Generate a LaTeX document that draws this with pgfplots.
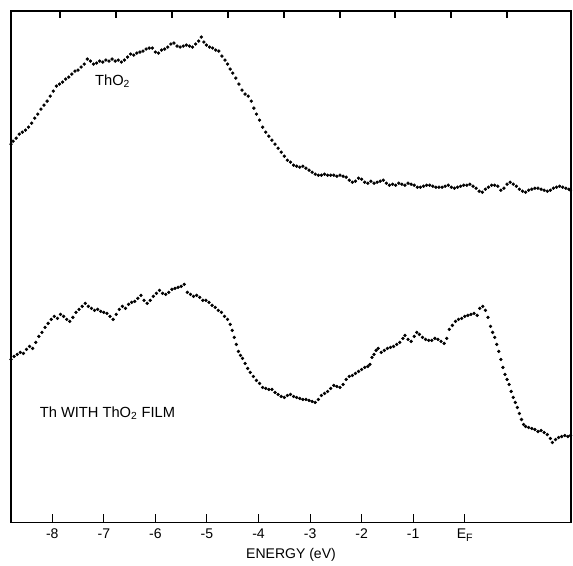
\documentclass[border=0pt]{standalone}
\usepackage{pgfplots}
\pgfplotsset{compat=1.18}
\usepackage{fontspec}
\setmainfont{Liberation Sans}
\begin{document}
\begin{tikzpicture}
\begin{axis}[
  at={(0,0)}, anchor=south west,
  scale only axis,
  width=419.5pt, height=383.25pt,
  xmin=-8.80, xmax=2.06, ymin=0, ymax=511,
  xtick={-8,-7,-6,-5,-4,-3,-2,-1,0},
  xticklabels={-8,-7,-6,-5,-4,-3,-2,-1,E\raisebox{-0.45ex}{\footnotesize F}},
  xtick pos=bottom,
  ytick=\empty,
  tick align=inside,
  major tick length=6.75pt,
  tick style={black, line width=0.8pt},
  axis line style={black, line width=0.9pt},
  tick label style={font=\fontsize{10.5}{12}\selectfont},
  xticklabel style={yshift=-1pt},
  xlabel={ENERGY (eV)},
  xlabel style={font=\fontsize{10.5}{12}\selectfont, yshift=2pt},
  clip=false,
]
\addplot[only marks, mark=*, mark size=1.05pt, black] coordinates {
(-8.80,378) (-8.76,381) (-8.70,384) (-8.64,388) (-8.58,390) (-8.52,392) (-8.46,395) (-8.40,399)
(-8.34,404) (-8.28,408) (-8.22,413) (-8.16,417) (-8.10,421) (-8.04,426) (-7.98,431) (-7.92,436)
(-7.86,438) (-7.80,440) (-7.74,443) (-7.68,445) (-7.62,448) (-7.56,451) (-7.50,452) (-7.44,455)
(-7.38,458) (-7.32,463) (-7.26,461) (-7.20,458) (-7.14,459) (-7.08,461) (-7.02,460) (-6.96,462)
(-6.90,461) (-6.84,463) (-6.78,461) (-6.72,462) (-6.66,460) (-6.60,462) (-6.54,465) (-6.48,468)
(-6.42,467) (-6.36,469) (-6.30,470) (-6.24,471) (-6.18,473) (-6.12,474) (-6.06,474) (-6.00,470)
(-5.94,469) (-5.88,472) (-5.82,473) (-5.76,475) (-5.70,478) (-5.64,479) (-5.58,476) (-5.52,475)
(-5.46,476) (-5.40,477) (-5.34,476) (-5.28,475) (-5.22,478) (-5.16,481) (-5.11,485) (-5.06,480)
(-5.01,477) (-4.95,475) (-4.89,474) (-4.83,472) (-4.77,471) (-4.71,466) (-4.65,462) (-4.60,458)
(-4.55,453) (-4.50,449) (-4.44,444) (-4.38,438) (-4.32,432) (-4.26,428) (-4.20,426) (-4.14,421)
(-4.09,414) (-4.04,408) (-3.98,402) (-3.92,395) (-3.86,390) (-3.80,386) (-3.74,382) (-3.68,378)
(-3.62,374) (-3.56,370) (-3.50,366) (-3.44,362) (-3.38,360) (-3.32,357) (-3.26,356) (-3.20,355)
(-3.14,356) (-3.08,354) (-3.02,352) (-2.96,350) (-2.90,348) (-2.84,347) (-2.78,347) (-2.72,348)
(-2.66,347) (-2.60,347) (-2.54,347) (-2.48,346) (-2.42,347) (-2.36,346) (-2.30,345) (-2.24,342)
(-2.18,340) (-2.12,341) (-2.06,344) (-2.00,343) (-1.94,340) (-1.88,339) (-1.82,341) (-1.76,339)
(-1.70,340) (-1.64,341) (-1.58,342) (-1.52,339) (-1.46,337) (-1.40,338) (-1.34,337) (-1.28,339)
(-1.22,338) (-1.16,337) (-1.10,339) (-1.04,338) (-0.98,337) (-0.92,335) (-0.86,335) (-0.80,336)
(-0.74,337) (-0.68,337) (-0.62,336) (-0.56,335) (-0.50,335) (-0.44,335) (-0.38,336) (-0.32,337)
(-0.26,335) (-0.20,334) (-0.14,335) (-0.08,336) (-0.02,337) (0.04,337) (0.10,338) (0.16,336)
(0.22,334) (0.28,331) (0.34,330) (0.40,333) (0.46,335) (0.52,337) (0.58,337) (0.64,336)
(0.70,332) (0.76,334) (0.82,338) (0.88,340) (0.94,338) (1.00,336) (1.06,333) (1.12,331)
(1.18,330) (1.24,332) (1.30,333) (1.36,334) (1.42,334) (1.48,333) (1.54,332) (1.60,331)
(1.66,332) (1.72,334) (1.78,335) (1.84,336) (1.90,335) (1.96,334) (2.02,333) (2.05,332)
};
\addplot[only marks, mark=*, mark size=1.05pt, black] coordinates {
(-8.80,163) (-8.74,166) (-8.68,168) (-8.62,170) (-8.56,169) (-8.50,173) (-8.44,176) (-8.38,174)
(-8.32,180) (-8.26,186) (-8.20,190) (-8.14,195) (-8.08,199) (-8.02,203) (-7.96,206) (-7.90,204)
(-7.84,208) (-7.78,206) (-7.72,203) (-7.66,201) (-7.60,205) (-7.54,210) (-7.48,213) (-7.42,216)
(-7.36,219) (-7.30,216) (-7.24,214) (-7.18,212) (-7.12,213) (-7.06,211) (-7.00,210) (-6.94,209)
(-6.88,206) (-6.82,203) (-6.76,208) (-6.70,213) (-6.64,216) (-6.58,214) (-6.52,218) (-6.46,220)
(-6.40,221) (-6.34,224) (-6.28,227) (-6.22,222) (-6.16,219) (-6.10,222) (-6.04,226) (-5.98,229)
(-5.92,232) (-5.86,229) (-5.80,228) (-5.74,230) (-5.68,233) (-5.62,234) (-5.56,235) (-5.50,236)
(-5.44,238) (-5.38,230) (-5.32,228) (-5.26,226) (-5.20,227) (-5.14,225) (-5.08,222) (-5.02,222)
(-4.96,220) (-4.90,217) (-4.84,215) (-4.78,212) (-4.72,210) (-4.66,206) (-4.60,203) (-4.55,198)
(-4.51,192) (-4.47,185) (-4.43,178) (-4.39,171) (-4.35,167) (-4.31,164) (-4.26,159) (-4.21,154)
(-4.16,150) (-4.10,146) (-4.04,142) (-3.98,139) (-3.92,135) (-3.86,134) (-3.80,133) (-3.74,133)
(-3.68,130) (-3.62,128) (-3.56,126) (-3.50,125) (-3.44,127) (-3.38,128) (-3.32,126) (-3.26,125)
(-3.20,124) (-3.14,123) (-3.08,123) (-3.02,122) (-2.96,121) (-2.90,120) (-2.84,123) (-2.78,127)
(-2.72,129) (-2.66,131) (-2.60,134) (-2.54,137) (-2.48,136) (-2.42,135) (-2.36,138) (-2.30,143)
(-2.24,146) (-2.18,147) (-2.12,149) (-2.06,151) (-2.00,153) (-1.94,155) (-1.88,156) (-1.84,158)
(-1.80,165) (-1.76,168) (-1.72,172) (-1.68,174) (-1.62,170) (-1.56,172) (-1.50,174) (-1.44,175)
(-1.38,176) (-1.32,178) (-1.26,180) (-1.20,184) (-1.16,187) (-1.10,183) (-1.04,181) (-0.98,186)
(-0.93,190) (-0.88,188) (-0.82,185) (-0.76,183) (-0.70,182) (-0.64,182) (-0.58,184) (-0.52,183)
(-0.46,181) (-0.40,179) (-0.35,184) (-0.30,193) (-0.24,197) (-0.18,201) (-0.12,203) (-0.06,204)
(0.00,206) (0.06,207) (0.12,208) (0.18,209) (0.24,207) (0.29,214) (0.35,216) (0.40,212)
(0.45,205) (0.50,196) (0.54,190) (0.58,185) (0.62,178) (0.66,171) (0.70,163) (0.74,155)
(0.78,148) (0.82,143) (0.86,138) (0.90,131) (0.94,125) (0.98,120) (1.02,115) (1.06,109)
(1.10,103) (1.14,98) (1.18,96) (1.24,95) (1.30,94) (1.36,93) (1.42,91) (1.48,92)
(1.54,90) (1.60,88) (1.66,84) (1.70,80) (1.76,83) (1.82,85) (1.88,86) (1.94,87)
(2.00,86) (2.05,87)
};
\node[font=\fontsize{11}{13}\selectfont] at (axis cs:-6.83,441) {ThO\textsubscript{2}};
\node[font=\fontsize{11}{13}\selectfont] at (axis cs:-6.93,109) {Th WITH ThO\textsubscript{2} FILM};
\end{axis}
\begin{axis}[
  at={(0,0)}, anchor=south west,
  scale only axis,
  width=419.5pt, height=383.25pt,
  xmin=11, xmax=571, ymin=0, ymax=1,
  axis x line*=top, axis y line=none,
  x axis line style={-, draw=none},
  xtick={60,116,172,228,284,340,395,451,507},
  xticklabels={},
  tick align=inside,
  major tick length=5.5pt,
  tick style={black, line width=0.8pt},
]
\end{axis}
\pgfresetboundingbox
\path[use as bounding box] (-8.25pt,-32.25pt) rectangle (421pt,391.5pt);
\end{tikzpicture}
\end{document}
